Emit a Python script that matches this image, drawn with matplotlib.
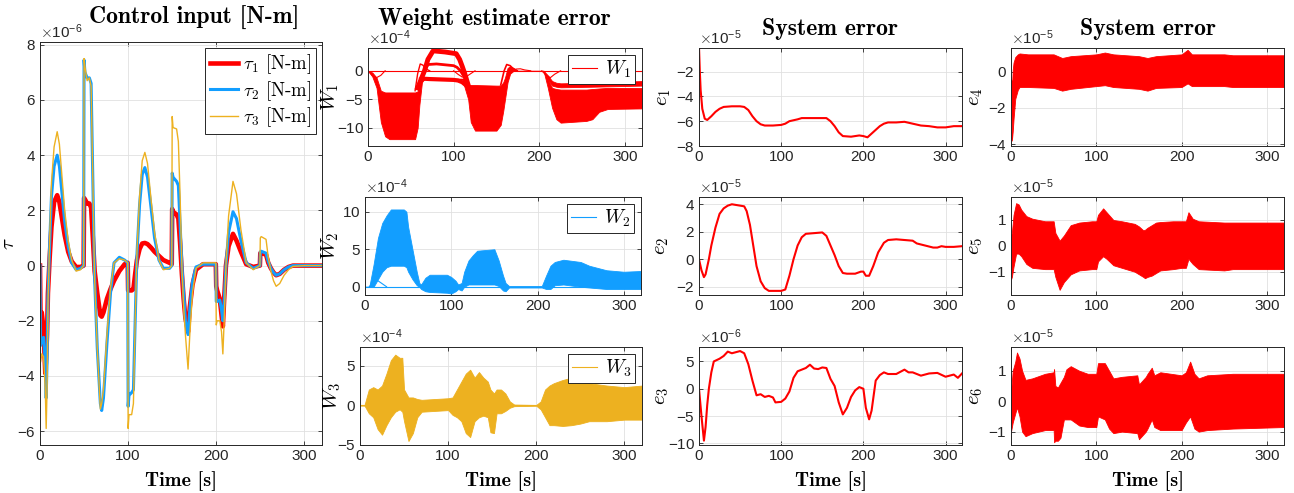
import numpy as np
import matplotlib
matplotlib.use('Agg')
import matplotlib.pyplot as plt
from matplotlib.ticker import ScalarFormatter

plt.rcParams['font.family'] = ['Liberation Sans', 'DejaVu Sans']
plt.rcParams['mathtext.fontset'] = 'cm'

RED = '#ff0000'
BLUE = '#129eff'
YELLOW = '#edb120'
DARK = '#262626'

# control input, units of 1e-6 N-m
t_tau = [0, 0.5, 2, 4, 6, 7, 8, 9, 11, 13, 16, 19.5, 22, 25, 28, 32, 36, 41, 46, 49.5,
         50, 51, 53.5, 56, 58, 60, 62, 65, 68.5, 70, 72, 76, 80, 84, 90, 96, 99.5, 100, 101, 104,
         106, 108, 110, 113, 116, 119, 122, 126, 130, 135, 140, 147, 149.5, 150, 151, 155, 157, 159, 161, 163,
         165, 168, 170, 173, 177, 185, 199.5, 200, 201, 204, 206, 207.5, 209, 211, 214, 219, 223, 228, 234, 242,
         249.5, 250, 251, 256.5, 259, 262, 265, 268, 272, 277, 282, 287, 300, 320]
tau1 = [0, -1.7, -1.7, -2.3, -3.9, -3.3, -2.5, -1.0, 0.3, 1.4, 2.3, 2.55, 2.3, 1.7, 1.1, 0.5, 0.15, -0.05, -0.05, 0,
        2.45, 2.4, 2.25, 2.25, 2.1, 1.0, -0.2, -1.0, -1.8, -1.85, -1.7, -1.2, -0.85, -0.55, -0.2, 0.05, 0.1, -0.9, -0.9, -0.9,
        -0.85, -0.3, 0.2, 0.6, 0.8, 0.82, 0.78, 0.65, 0.5, 0.35, 0.2, 0.1, 0.05, 2.05, 1.95, 1.85, 1.7, 0.8, -0.3, -1.2,
        -1.9, -2.4, -1.5, -0.7, -0.15, 0.05, 0.05, -0.75, -0.9, -1.2, -1.8, -2.2, -1.2, 0, 0.7, 1.15, 0.9, 0.5, 0.05, -0.05,
        0, 0.45, 0.45, 0.4, 0.1, -0.1, -0.25, -0.35, -0.3, -0.15, -0.05, 0, 0, 0]
tau2 = [0, -2.9, -2.7, -2.6, -3.5, -4.8, -3.5, -1.2, 0.8, 2.5, 3.6, 4.0, 3.6, 2.6, 1.6, 0.7, 0.1, -0.15, -0.1, 0,
        7.45, 7.0, 6.8, 6.8, 6.6, 3.0, -0.5, -3.0, -5.0, -5.25, -4.8, -2.8, -1.0, 0.1, 0.3, 0.2, 0.1, -5.1, -4.7, -4.6,
        -4.5, -2.0, 0.4, 2.2, 3.3, 3.55, 3.2, 2.1, 1.0, 0.2, -0.1, -0.1, 0, 3.35, 3.2, 3.05, 2.9, 1.5, 0, -1.0,
        -2.0, -2.5, -1.6, -0.6, -0.05, 0.05, 0.05, -1.3, -1.3, -1.25, -1.6, -2.0, -1.3, 0, 1.2, 1.95, 1.7, 0.9, 0.1, -0.1,
        0, 0.5, 0.52, 0.45, 0.15, -0.1, -0.25, -0.35, -0.3, -0.15, -0.05, 0, 0, 0]
tau3 = [0, -3.5, -3.2, -3.3, -4.5, -5.9, -4.5, -1.5, 1.0, 3.0, 4.3, 4.85, 4.4, 3.2, 2.0, 0.9, 0.2, -0.2, -0.15, 0,
        7.5, 7.2, 6.7, 6.8, 6.5, 3.0, -0.5, -3.0, -5.2, -5.0, -4.5, -2.5, -0.8, 0.1, 0.25, 0.2, 0.1, -5.9, -5.4, -5.4,
        -5.0, -2.0, 0.5, 2.5, 3.8, 4.1, 3.7, 2.4, 1.2, 0.2, -0.15, -0.1, 0, 5.4, 5.0, 4.95, 4.5, 2.5, 0, -1.5,
        -2.5, -3.75, -2.5, -1.0, -0.1, 0.1, 0.1, -2.15, -2.0, -2.0, -2.4, -3.2, -2.0, 0, 1.8, 3.05, 2.6, 1.3, 0.1, -0.15,
        0, 1.0, 1.05, 0.95, 0.3, -0.2, -0.55, -0.75, -0.65, -0.35, -0.15, -0.03, 0, 0]

# weight estimate error W1 (1e-4): dense band envelopes + single weight traces
tW1 = [0, 5, 10, 15, 20, 25, 55, 58, 60, 63, 66, 110, 113, 117, 120, 125, 150, 155, 158, 160,
       163, 166, 170, 175, 205, 210, 215, 220, 225, 255, 262, 270, 280, 320]
W1_hi = [0, -0.3, -1.2, -3.5, -3.8, -3.8, -3.8, -3.6, -2.5, -1.0, -1.4, -1.4, -1.5, -2.5, -2.5, -2.5, -2.6, -2.6, -2.0, -1.2,
         0.5, 0.8, 0.5, 0, 0, -1.5, -3.0, -3.2, -3.3, -3.3, -3.2, -3.1, -3.0, -3.0]
W1_lo = [0, -1.0, -3.0, -9.0, -11.5, -12.0, -12.0, -10.0, -6.0, -2.0, -1.4, -1.4, -3.0, -5.0, -9.0, -10.5, -10.5, -9.5, -7.0, -5.0,
         -2.0, -0.5, 0, 0, 0, -3.0, -6.5, -8.5, -9.1, -8.8, -8.5, -7.2, -6.7, -6.6]
tW1b = [205, 210, 215, 220, 225, 260, 320]
W1b_hi = [0, -0.8, -1.8, -2.1, -2.2, -2.1, -1.8]
W1b_lo = [0, -1.5, -2.6, -2.8, -2.9, -2.8, -2.6]
W1_traces = [
    ([58, 62, 66, 70, 76, 90, 103, 107, 110, 113, 117], [-3, -1.5, 0, 2.0, 3.5, 3.3, 3.0, 2.0, 0.8, -0.5, -2.5], 3.5),
    ([58, 62, 66, 70, 80, 100, 104, 108, 112, 116], [-3, -1.5, 0, 1.1, 1.2, 0.9, 0.6, 0.0, -1.0, -2.5], 2.0),
    ([62, 66, 72, 100, 105, 110, 114], [-1.5, -1.4, -1.45, -1.6, -1.7, -2.0, -2.5], 3.0),
    ([55, 58, 61, 64, 68, 72], [-3.5, -0.5, 1.2, 1.0, 0.3, 0], 1.0),
    ([0, 5, 10, 15, 20], [0, -0.8, -1.2, -0.8, 0], 0.8),
    ([100, 105, 110, 115, 120, 125], [0, -0.6, -1.1, -1.0, -0.5, 0], 0.8),
    ([203, 208, 213, 218, 225], [0, -0.8, -1.2, -0.6, 0], 0.8),
    ([155, 159, 162, 166, 170, 174], [-2.5, 0, 1.1, 0.9, 0.3, 0], 1.2),
    ([168, 173, 178, 183, 190], [0, 0.3, 0.35, 0.15, 0], 0.8),
]

# W2 (1e-4)
tW2 = [0, 5, 10, 15, 20, 25, 30, 45, 48, 50, 55, 60, 63, 65, 70, 75, 95, 100, 105, 108,
       112, 115, 120, 125, 130, 150, 155, 160, 163, 167, 205, 210, 215, 220, 230, 250, 260, 280, 300, 320]
W2_hi = [0, 0, 3, 6.5, 8.5, 9.5, 10.3, 10.3, 10.0, 8, 5, 2, 0.5, 0.3, 1.2, 1.6, 1.6, 1.3, 0.8, 0.3,
         0.5, 2, 3.5, 4.2, 4.8, 5.0, 3.5, 1.5, 0.5, 0.1, 0.1, 1.5, 2.8, 3.3, 3.6, 3.3, 2.8, 2.2, 2.0, 2.1]
W2_lo = [0, 0, 0, 1.0, 2.0, 2.6, 2.8, 2.8, 2.6, 2.0, 1.0, 0.2, 0, -0.3, -0.6, -0.7, -0.8, -0.9, -0.6, -0.3,
         -0.5, 0, 0.3, 0.3, 0.3, 0.3, 0.1, -0.5, -0.6, -0.1, -0.1, -0.3, -0.3, 0.2, 0.3, 0, -0.1, -0.3, -0.3, -0.3]
W2_arc_t = [5, 10, 15, 20, 25]
W2_arc = [0, 0.8, 0.8, 0.4, 0]

# W3 (1e-4)
tW3 = [0, 5, 10, 15, 20, 25, 30, 35, 40, 45, 48, 50, 55, 60, 65, 70, 100, 105, 110, 115,
       120, 125, 130, 135, 140, 145, 148, 152, 155, 160, 165, 170, 175, 200, 205, 210, 215, 220,
       230, 240, 250, 260, 280, 300, 320]
W3_hi = [0, 0, 2.0, 2.3, 2.0, 2.5, 4.0, 5.7, 6.4, 6.0, 6.0, 2.0, 1.0, 1.0, 0.8, 0.7, 0.9, 1.0, 2.0, 3.0,
         4.0, 4.5, 3.5, 4.2, 3.5, 3.0, 2.0, 1.5, 2.0, 2.0, 1.5, 0.5, 0.1, 0.05, 0.5, 2.0, 2.5, 2.8,
         3.2, 3.5, 3.0, 2.8, 2.5, 2.3, 2.5]
W3_lo = [0, 0, -1.0, -1.5, -3.0, -3.7, -2.5, -1.5, -0.8, -0.5, -0.8, -2.0, -4.5, -3.5, -1.5, -0.8, -0.6, -1.2, -1.5, -2.0,
         -3.5, -4.0, -2.0, -1.5, -1.3, -1.5, -3.4, -3.5, -1.0, -1.0, -0.7, -0.3, -0.1, -0.05, -0.5, -1.5, -2.5, -2.5,
         -2.6, -2.5, -2.3, -2.0, -2.0, -1.8, -1.8]

# system error e1 (1e-5), e2 (1e-5), e3 (1e-6)
te1 = [0, 1, 2, 4, 7, 10, 15, 20, 25, 30, 40, 50, 55, 60, 65, 70, 75, 80, 90, 100,
       105, 110, 120, 125, 140, 155, 160, 165, 170, 175, 185, 195, 200, 205, 210, 215, 220, 225, 230, 240,
       250, 260, 270, 280, 290, 300, 310, 320]
e1 = [0, -2.0, -3.5, -5.0, -5.8, -5.9, -5.6, -5.25, -5.0, -4.85, -4.8, -4.8, -4.85, -5.1, -5.6, -6.0, -6.25, -6.35, -6.35, -6.3,
      -6.2, -6.0, -5.85, -5.75, -5.75, -5.75, -6.0, -6.4, -6.9, -7.2, -7.25, -7.15, -7.2, -7.3, -7.0, -6.7, -6.4, -6.2, -6.1, -6.1,
      -6.05, -6.2, -6.35, -6.4, -6.5, -6.5, -6.4, -6.4]
te2 = [0, 3, 6, 8, 12, 15, 20, 25, 30, 35, 40, 50, 55, 58, 62, 66, 70, 75, 80, 85,
       95, 100, 105, 110, 115, 120, 125, 130, 140, 150, 155, 160, 165, 170, 175, 180, 190, 197, 200, 203,
       207, 212, 218, 225, 230, 240, 250, 260, 265, 275, 285, 290, 295, 300, 310, 320]
e2 = [0, -0.8, -1.3, -1.1, 0, 1.0, 2.3, 3.3, 3.7, 3.9, 4.0, 3.9, 3.85, 3.5, 2.5, 1.0, -0.5, -1.6, -2.1, -2.3,
      -2.3, -2.3, -2.2, -1.2, 0, 1.0, 1.6, 1.85, 1.9, 1.95, 1.7, 1.0, 0.3, -0.5, -1.0, -1.05, -1.05, -0.9, -0.9, -1.2,
      -1.2, -0.5, 0.5, 1.2, 1.4, 1.45, 1.4, 1.35, 1.15, 1.0, 0.85, 0.85, 0.95, 0.9, 0.9, 0.95]
te3 = [0, 3, 6, 8, 10, 12, 15, 18, 25, 30, 35, 40, 50, 55, 60, 65, 70, 75, 80, 85,
       90, 93, 100, 105, 110, 115, 120, 125, 130, 135, 140, 145, 150, 155, 160, 165, 170, 175, 180, 185,
       190, 195, 200, 203, 207, 210, 215, 220, 225, 230, 240, 250, 255, 260, 270, 280, 290, 300, 310, 315, 320]
e3 = [0, -5, -9.5, -7, -3, 0, 3, 5, 5.5, 6, 6.8, 6.5, 6.9, 6.5, 4.5, 1.5, -1.2, -1.0, -1.5, -1.3,
      -1.6, -2.5, -2.4, -1.8, -0.5, 2.0, 3.2, 3.5, 3.8, 4.4, 3.7, 3.6, 3.9, 3.8, 1.8, 0.5, -2.5, -4.7, -3.5, -1.5,
      -0.3, 0.3, 0, -3.5, -5.6, -4, 1.5, 2.5, 3.0, 2.7, 2.7, 3.5, 3.0, 3.0, 2.4, 2.8, 2.9, 2.2, 2.6, 2.0, 2.8]

# system error e4..e6 (1e-5), oscillation envelopes
te4 = [0, 0.5, 1, 2, 3, 5, 8, 10, 20, 50, 60, 70, 100, 110, 120, 150, 160, 170, 200, 207, 212, 250, 260, 300, 320]
e4_hi = [-0.4, -0.5, -1.0, 0.1, 0.5, 0.8, 0.95, 1.0, 0.95, 0.95, 0.75, 0.85, 0.95, 1.05, 0.95, 0.85, 0.75, 0.85, 0.95, 1.2,
         0.95, 0.95, 0.9, 0.9, 0.9]
e4_lo = [-0.4, -2.0, -3.8, -3.3, -2.6, -1.5, -1.0, -0.85, -0.85, -0.9, -1.05, -0.95, -0.8, -0.75, -0.85, -0.95, -1.05, -0.9, -0.85, -0.65,
         -0.8, -0.8, -0.85, -0.85, -0.85]
te5 = [0, 1, 3, 6, 9, 12, 18, 25, 40, 50, 52, 57, 62, 70, 80, 95, 100, 102, 108, 112,
       120, 130, 145, 150, 155, 157, 160, 165, 170, 175, 190, 200, 205, 208, 213, 220, 250, 260, 320]
e5_hi = [0.4, 0.5, 1.2, 1.65, 1.6, 1.4, 1.15, 1.05, 0.95, 0.95, 0.5, 0.2, 0.4, 0.8, 0.9, 0.95, 0.95, 1.2, 1.45, 1.3,
         1.0, 0.95, 0.85, 0.75, 0.6, 0.62, 0.7, 0.8, 0.9, 0.92, 0.95, 0.95, 0.95, 1.3, 1.05, 0.95, 0.9, 0.9, 0.9]
e5_lo = [-1.3, -1.2, -0.8, -0.3, -0.3, -0.4, -0.7, -0.85, -0.9, -0.9, -1.2, -1.7, -1.4, -1.1, -0.95, -0.9, -0.9, -0.6, -0.4, -0.5,
         -0.75, -0.85, -1.0, -1.1, -1.2, -1.25, -1.2, -1.15, -1.05, -0.95, -0.9, -0.85, -0.85, -0.5, -0.7, -0.9, -0.95, -0.9, -0.9]
te6 = [0, 2, 5, 7, 10, 13, 17, 25, 40, 50, 50.5, 52, 55, 58, 62, 65, 70, 80, 90, 100,
       102, 110, 115, 120, 130, 148, 150, 158, 160, 165, 168, 175, 200, 205, 210, 215, 220, 230, 260, 320]
e6_hi = [0.3, 1.0, 1.3, 1.6, 1.4, 1.0, 0.7, 0.75, 0.9, 0.95, 1.05, 0.5, 0.45, 0.6, 0.8, 1.05, 1.15, 1.0, 0.9, 0.9,
         1.25, 1.25, 1.0, 0.75, 0.8, 0.85, 0.55, 0.8, 0.9, 1.1, 0.85, 0.95, 0.85, 0.95, 1.3, 0.9, 0.75, 0.85, 0.9, 0.9]
e6_lo = [-1.0, -0.7, -0.4, -0.2, -0.5, -1.0, -1.15, -1.05, -0.95, -0.95, -1.35, -1.3, -1.3, -1.2, -0.6, -0.6, -0.6, -0.8, -0.85, -0.85,
         -0.5, -0.6, -0.9, -1.05, -1.0, -1.05, -1.25, -1.0, -0.9, -0.6, -0.85, -0.95, -0.95, -0.7, -0.5, -0.9, -1.0, -0.95, -0.9, -0.85]

xticks = [0, 100, 200, 300]

W, H = 1294, 493
fig = plt.figure(figsize=(W / 100, H / 100), dpi=100)


def make_ax(l, r, t, b, ylim, yticks, p):
    ax = fig.add_axes([l / W, 1 - b / H, (r - l) / W, (b - t) / H])
    ax.set_xlim(0, 320)
    ax.set_ylim(ylim[0] * 10.0 ** p, ylim[1] * 10.0 ** p)
    ax.set_xticks(xticks)
    ax.set_yticks([v * 10.0 ** p for v in yticks])
    fmt = ScalarFormatter(useMathText=True, useOffset=False)
    fmt.set_powerlimits((p, p))
    ax.yaxis.set_major_formatter(fmt)
    ax.yaxis.get_offset_text().set_fontsize(11)
    ax.yaxis.get_offset_text().set_color(DARK)
    ax.grid(True, color='#e0e0e0', lw=0.6)
    ax.set_axisbelow(True)
    ax.tick_params(direction='in', length=3, width=0.6, colors=DARK, labelsize=11,
                   top=True, right=True, pad=3)
    for s in ax.spines.values():
        s.set_color(DARK)
        s.set_linewidth(0.7)
    return ax


def ylab(ax, text, x_px, l, r):
    # x_px: right edge of the rotated label in figure pixels
    ax.set_ylabel(text, fontsize=15)
    ax.yaxis.set_label_coords((x_px - l) / (r - l), 0.5)


def title(text, x_px, y_px):
    fig.text(x_px / W, 1 - y_px / H, text, ha='center', va='center',
             fontfamily='cmb10', fontsize=17, color='black')


def sc(v, p):
    return np.array(v) * 10.0 ** p


label_kw = dict(fontfamily='cmb10', fontsize=14.5, color='black', labelpad=6)
wleg_kw = dict(loc='upper right', fontsize=14, fancybox=False, framealpha=1, edgecolor=DARK,
               borderaxespad=0.35, handlelength=1.3, handletextpad=0.4, borderpad=0.2)

# ---- control input
ax = make_ax(40, 322, 42, 445, (-6.5, 8.1), [-6, -4, -2, 0, 2, 4, 6, 8], -6)
ax.plot(t_tau, sc(tau1, -6), color=RED, lw=3.3, label=r'$\tau_1$ [N-m]')
ax.plot(t_tau, sc(tau2, -6), color=BLUE, lw=2.2, label=r'$\tau_2$ [N-m]')
ax.plot(t_tau, sc(tau3, -6), color=YELLOW, lw=1.0, label=r'$\tau_3$ [N-m]')
title('Control input [N-m]', 194, 18)
ax.set_xlabel('Time [s]', **label_kw)
ylab(ax, r'$\tau$', 18, 40, 322)
leg = ax.legend(loc='upper right', prop={'family': 'cmr10', 'size': 13.5}, fancybox=False,
                framealpha=1, edgecolor=DARK, borderaxespad=0.3, handlelength=1.5,
                handletextpad=0.3, labelspacing=0.15, borderpad=0.25)
leg.get_frame().set_linewidth(0.7)

# ---- weight estimate errors
ax = make_ax(368, 642, 48, 146, (-13.2, 4), [-10, -5, 0], -4)
ax.fill_between(tW1, sc(W1_lo, -4), sc(W1_hi, -4), color=RED, lw=0.6, edgecolor=RED)
ax.fill_between(tW1b, sc(W1b_lo, -4), sc(W1b_hi, -4), color=RED, lw=0.6, edgecolor=RED)
for tt, vv, lw in W1_traces:
    ax.plot(tt, sc(vv, -4), color=RED, lw=lw)
ax.plot([0, 320], [0, 0], color=RED, lw=0.8, label=r'$W_1$')
title('Weight estimate error', 494, 19)
ylab(ax, r'$W_1$', 341, 368, 642)
leg = ax.legend(**wleg_kw)
leg.get_frame().set_linewidth(0.7)

ax = make_ax(365, 641, 196.7, 295, (-1.1, 12), [0, 5, 10], -4)
ax.fill_between(tW2, sc(W2_lo, -4), sc(W2_hi, -4), color=BLUE, lw=0.6, edgecolor=BLUE)
ax.plot(W2_arc_t, sc(W2_arc, -4), color=BLUE, lw=0.8)
ax.plot([0, 320], [0, 0], color=BLUE, lw=0.8, label=r'$W_2$')
ylab(ax, r'$W_2$', 341, 365, 641)
leg = ax.legend(**wleg_kw)
leg.get_frame().set_linewidth(0.7)

ax = make_ax(360, 642, 346.7, 445, (-5, 7.4), [-5, 0, 5], -4)
ax.fill_between(tW3, sc(W3_lo, -4), sc(W3_hi, -4), color=YELLOW, lw=0.6, edgecolor=YELLOW)
ax.plot([0, 320], [0, 0], color=YELLOW, lw=0.8, label=r'$W_3$')
ylab(ax, r'$W_3$', 343, 360, 642)
ax.set_xlabel('Time [s]', **label_kw)
leg = ax.legend(**wleg_kw)
leg.get_frame().set_linewidth(0.7)

# ---- system errors
ax = make_ax(699, 962, 48, 146, (-8, -0.1), [-8, -6, -4, -2], -5)
ax.plot(te1, sc(e1, -5), color=RED, lw=1.5)
title('System error', 830.5, 29)
ylab(ax, r'$e_1$', 673, 699, 962)

ax = make_ax(699, 962, 196.7, 295, (-2.6, 4.55), [-2, 0, 2, 4], -5)
ax.plot(te2, sc(e2, -5), color=RED, lw=1.5)
ylab(ax, r'$e_2$', 671, 699, 962)

ax = make_ax(699, 962, 346.7, 445, (-10.3, 7.7), [-10, -5, 0, 5], -6)
ax.plot(te3, sc(e3, -6), color=RED, lw=1.5)
ylab(ax, r'$e_3$', 671, 699, 962)
ax.set_xlabel('Time [s]', **label_kw)

ax = make_ax(1011, 1284, 48, 146, (-4.1, 1.3), [-4, -2, 0], -5)
ax.fill_between(te4, sc(e4_lo, -5), sc(e4_hi, -5), color=RED, lw=0.6, edgecolor=RED)
title('System error', 1147.5, 29)
ylab(ax, r'$e_4$', 985, 1011, 1284)

ax = make_ax(1011, 1284, 196.7, 295, (-1.9, 1.9), [-1, 0, 1], -5)
ax.fill_between(te5, sc(e5_lo, -5), sc(e5_hi, -5), color=RED, lw=0.6, edgecolor=RED)
ylab(ax, r'$e_5$', 985, 1011, 1284)

ax = make_ax(1011, 1284, 346.7, 445, (-1.44, 1.79), [-1, 0, 1], -5)
ax.fill_between(te6, sc(e6_lo, -5), sc(e6_hi, -5), color=RED, lw=0.6, edgecolor=RED)
ylab(ax, r'$e_6$', 985, 1011, 1284)
ax.set_xlabel('Time [s]', **label_kw)

fig.savefig('out.png', dpi=100)
